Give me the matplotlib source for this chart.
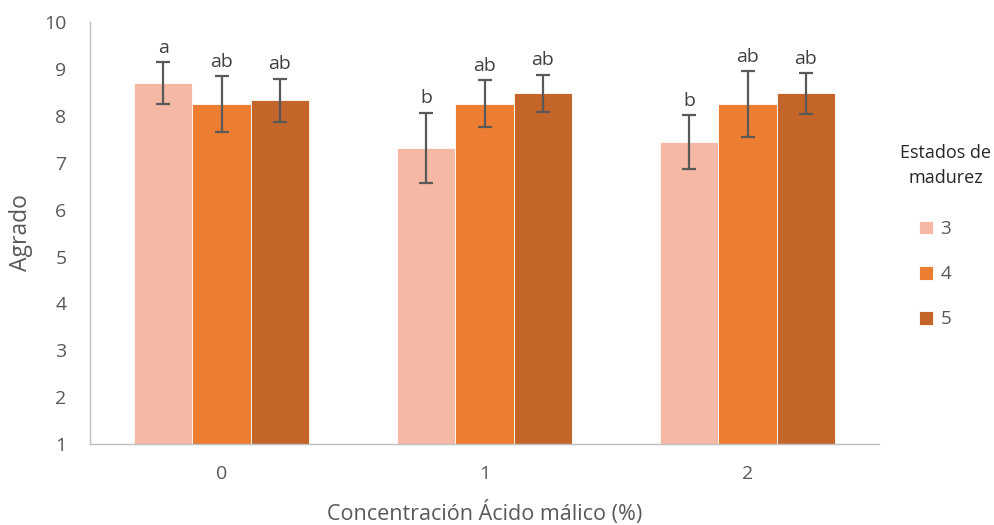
import numpy as np
import matplotlib.pyplot as plt

plt.rcParams['font.family'] = ['Open Sans', 'DejaVu Sans']

# Data
concentraciones = ['0', '1', '2']
estados = ['3', '4', '5']
agrado = {
    '3': [8.70, 7.32, 7.44],
    '4': [8.25, 8.26, 8.25],
    '5': [8.33, 8.48, 8.48],
}
error = {
    '3': [0.44, 0.75, 0.57],
    '4': [0.59, 0.50, 0.70],
    '5': [0.46, 0.39, 0.43],
}
letras = {
    '3': ['a', 'b', 'b'],
    '4': ['ab', 'ab', 'ab'],
    '5': ['ab', 'ab', 'ab'],
}
colores = ['#F4B8A5', '#ED7D31', '#C4652A']

fig = plt.figure(figsize=(9.95, 5.25), dpi=100)
ax = fig.add_axes([0.0905, 0.154, 0.793, 0.804])

x = np.arange(len(concentraciones))
width = 0.222
base = 1

for i, est in enumerate(estados):
    pos = x + (i - 1) * width
    vals = np.array(agrado[est])
    ax.bar(pos, vals - base, width, bottom=base, color=colores[i],
           edgecolor='white', linewidth=0.6, label=est, zorder=2)
    ax.errorbar(pos, vals, yerr=error[est], fmt='none', ecolor='#595959',
                elinewidth=1.6, capsize=5, capthick=1.6, zorder=3)
    for p, v, e, lab in zip(pos, vals, error[est], letras[est]):
        ax.annotate(lab, (p, v + e), xytext=(0, 4), textcoords='offset points',
                    ha='center', va='bottom', fontsize=14, color='#404040')

ax.set_xlim(-0.5, 2.5)
ax.set_ylim(1, 10)
ax.set_yticks(range(1, 11))
ax.set_xticks(x)
ax.set_xticklabels(concentraciones)
ax.tick_params(length=0, labelsize=14, labelcolor='#595959')
ax.tick_params(axis='x', pad=15)
ax.tick_params(axis='y', pad=17)

for s in ['top', 'right']:
    ax.spines[s].set_visible(False)
for s in ['left', 'bottom']:
    ax.spines[s].set_color('#BFBFBF')
    ax.spines[s].set_linewidth(1)

ax.set_xlabel('Concentración Ácido málico (%)', fontsize=15.5, color='#595959')
ax.xaxis.set_label_coords(0.5, -0.135)
ax.set_ylabel('Agrado', fontsize=16.5, color='#595959')
ax.yaxis.set_label_coords(-0.072, 0.502)

# legend: title as separate text, entries below
fig.text(946 / 995, 1 - 166 / 525, 'Estados de\nmadurez', ha='center', va='center',
         fontsize=13, color='#262626', linespacing=1.5, multialignment='center')
leg = fig.legend(*ax.get_legend_handles_labels(),
                 loc='upper left', bbox_to_anchor=(919 / 995, 1 - 220 / 525),
                 frameon=False, fontsize=13.5,
                 labelspacing=1.45, handlelength=0.75, handleheight=0.75,
                 handletextpad=0.4, borderpad=0, borderaxespad=0)
for t in leg.get_texts():
    t.set_color('#595959')

fig.savefig('out.png', dpi=100)
